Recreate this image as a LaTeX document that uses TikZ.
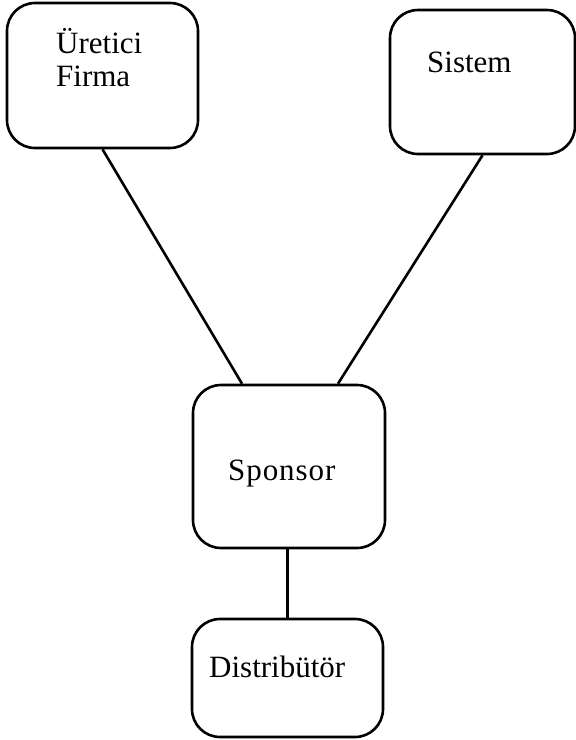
\documentclass[tikz,border=0pt]{standalone}
\usepackage{fontspec}
\setmainfont{Liberation Serif}
\usetikzlibrary{calc}
\tikzset{
  box/.style={draw=black, line width=2.6pt, rounded corners=28pt, inner sep=0pt, fill=none},
  lbl/.style={inner sep=0pt, anchor=base west, font=\fontsize{31}{33}\selectfont},
  link/.style={draw=black, line width=2.6pt}
}
\begin{document}
\begin{tikzpicture}[x=1pt,y=-1pt]
\useasboundingbox (0,0) rectangle (576,740);
\node[box, minimum width=191pt, minimum height=145pt] (uf) at (102.5,75.5) {};
\node[box, minimum width=185pt, minimum height=144pt] (sys) at (482.5,82) {};
\node[box, minimum width=192pt, minimum height=163pt] (sp) at (289,466.5) {};
\node[box, minimum width=191pt, minimum height=118pt] (dist) at (287.5,678) {};
\node[lbl] (t1) at (56,53) {Üretici};
\node[lbl] (t2) at (56,86) {Firma};
\node[lbl] (t3) at (427,72) {Sistem};
\node[lbl] (t4) at (228,480) {\addfontfeatures{LetterSpace=3}Sponsor};
\node[lbl] (t5) at (209,677) {Distribütör};
\draw[link] (uf.south) -- ([xshift=-47pt]sp.north);
\draw[link] (sys.south) -- ([xshift=49pt]sp.north);
\draw[link] (dist.north) -- (dist.north |- sp.south);
\end{tikzpicture}
\end{document}
